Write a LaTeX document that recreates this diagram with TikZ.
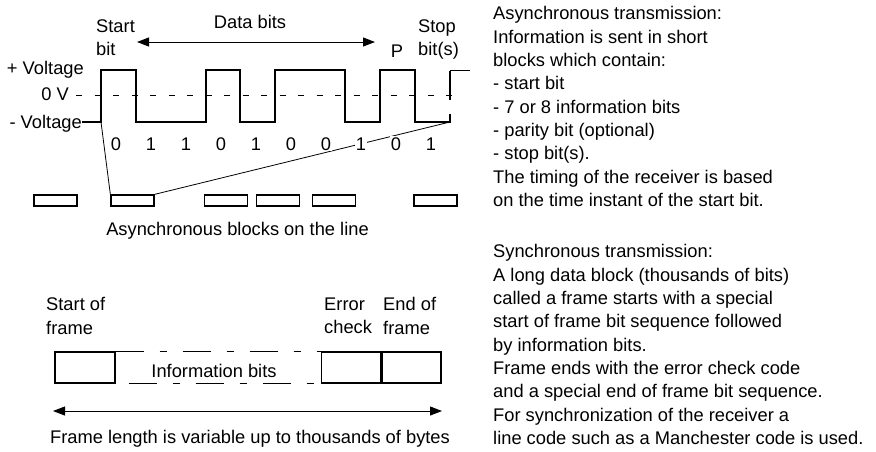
\documentclass[tikz,border=0pt]{standalone}
\usepackage{fontspec}
\setmainfont{Liberation Sans}
\usetikzlibrary{arrows.meta, positioning}

\begin{document}
\begin{tikzpicture}[
        x=1pt, y=-1pt,
        % Plain text labels
        lbl/.style={font=\fontsize{18.3}{23.3}\selectfont, inner sep=0pt, align=left},
        % Small blocks on the line
        blockbox/.style={draw, line width=1.3pt, minimum width=43pt, minimum height=11pt, inner sep=0pt},
        % Fields of the synchronous frame
        fieldbox/.style={draw, line width=1.3pt, minimum width=59pt, minimum height=31pt, inner sep=0pt},
        signal/.style={line width=1.6pt},
        dimarrow/.style={line width=1pt, {Triangle[length=12pt, width=9pt]}-{Triangle[length=12pt, width=9pt]}}
    ]
    \useasboundingbox (0,0) rectangle (876,451);

    % --- ASYNCHRONOUS SIGNAL ---
    \node (plusv) [lbl, anchor=base east] at (84,74) {+ Voltage};
    \node (zerov) [lbl, anchor=base east] at (69,100) {0 V};
    \node (minusv) [lbl, anchor=base east] at (82,128) {- Voltage};

    \draw[line width=1pt, dash pattern=on 6pt off 12.5pt] (76,95) -- (460,95);
    \draw[signal] (minusv.east |- 0,122) -| (101,70) -| (136,122) -| (206,70) -| (240,122)
        -| (275,70) -| (345,122) -| (380,70) -| (415,122) -| (450,114);
    \draw[signal] (450,100) -- (450,71);
    \draw[line width=0.7pt] (450,70) -- (470,70);

    \coordinate (wbeg) at (101,122);
    \coordinate (wend) at (450,122);

    \node (startlbl) [lbl, anchor=north west] at (96,19.5) {Start\\bit};
    \node (stoplbl) [lbl, anchor=north west] at (418,19.5) {Stop\\bit(s)};
    \node (parlbl) [lbl, anchor=base] at (397,57) {P};
    \node (datalbl) [lbl, anchor=base] at (250,28) {Data bits};
    \coordinate (dbl) at (137,42);
    \coordinate (dbr) at (375,42);
    \draw[dimarrow] (dbl) -- (dbr);

    % --- BLOCKS ON THE LINE ---
    \foreach \x [count=\k] in {55.5,132.5,226,278,334,435.5}
        \node (blk\k) [blockbox] at (\x,200.5) {};
    \draw[line width=0.8pt] (wbeg) -- (blk2.north west);
    \draw[line width=0.8pt] (wend) -- (blk2.north east);

    \foreach \b [count=\i from 0] in {0,1,1,0,1,0,0,1,0,1}
        \node (bit\i) [lbl, anchor=base, fill=white, inner sep=1pt] at ({116+35*\i},150) {\b};

    \node (blkcap) [lbl, anchor=base] at (237.5,235) {Asynchronous blocks on the line};

    % --- SYNCHRONOUS FRAME ---
    \node (sof) [fieldbox, minimum width=60pt] at (85,367.5) {};
    \node (errbox) [fieldbox, anchor=west] at (321,367.5) {};
    \node (eofbox) [fieldbox, right=0pt of errbox] {};
    \draw[line width=1.3pt, dash pattern=on 28pt off 16pt on 7pt off 16pt] (sof.north east) -- (errbox.north west);
    \draw[line width=1.3pt, dash pattern=on 28pt off 16pt on 7pt off 16pt] ([xshift=13pt]sof.south east) -- (errbox.south west);
    \node (infolbl) [lbl, anchor=base] at (214,377) {Information bits};

    \node (soflbl) [lbl, anchor=north west] at (46,297.5) {Start of\\frame};
    \node (errlbl) [lbl, anchor=north west] at (324,297.5) {Error\\check};
    \node (eoflbl) [lbl, anchor=north west] at (383,297.5) {End of\\frame};

    \coordinate (fll) at (53,411);
    \coordinate (flr) at (442,411);
    \draw[dimarrow] (fll) -- (flr);
    \node (flcap) [lbl, anchor=base] at (250,443) {Frame length is variable up to thousands of bytes};

    % --- NOTES ---
    \node (asyncnote) [lbl, anchor=north west] at (493,6.5) {Asynchronous transmission:\\
        Information is sent in short\\
        blocks which contain:\\
        - start bit\\
        - 7 or 8 information bits\\
        - parity bit (optional)\\
        - stop bit(s).\\
        The timing of the receiver is based\\
        on the time instant of the start bit.};
    \node (syncnote) [lbl, anchor=north west] at (493,244.5) {Synchronous transmission:\\
        A long data block (thousands of bits)\\
        called a frame starts with a special\\
        start of frame bit sequence followed\\
        by information bits.\\
        Frame ends with the error check code\\
        and a special end of frame bit sequence.\\
        For synchronization of the receiver a\\
        line code such as a Manchester code is used.};
\end{tikzpicture}
\end{document}
